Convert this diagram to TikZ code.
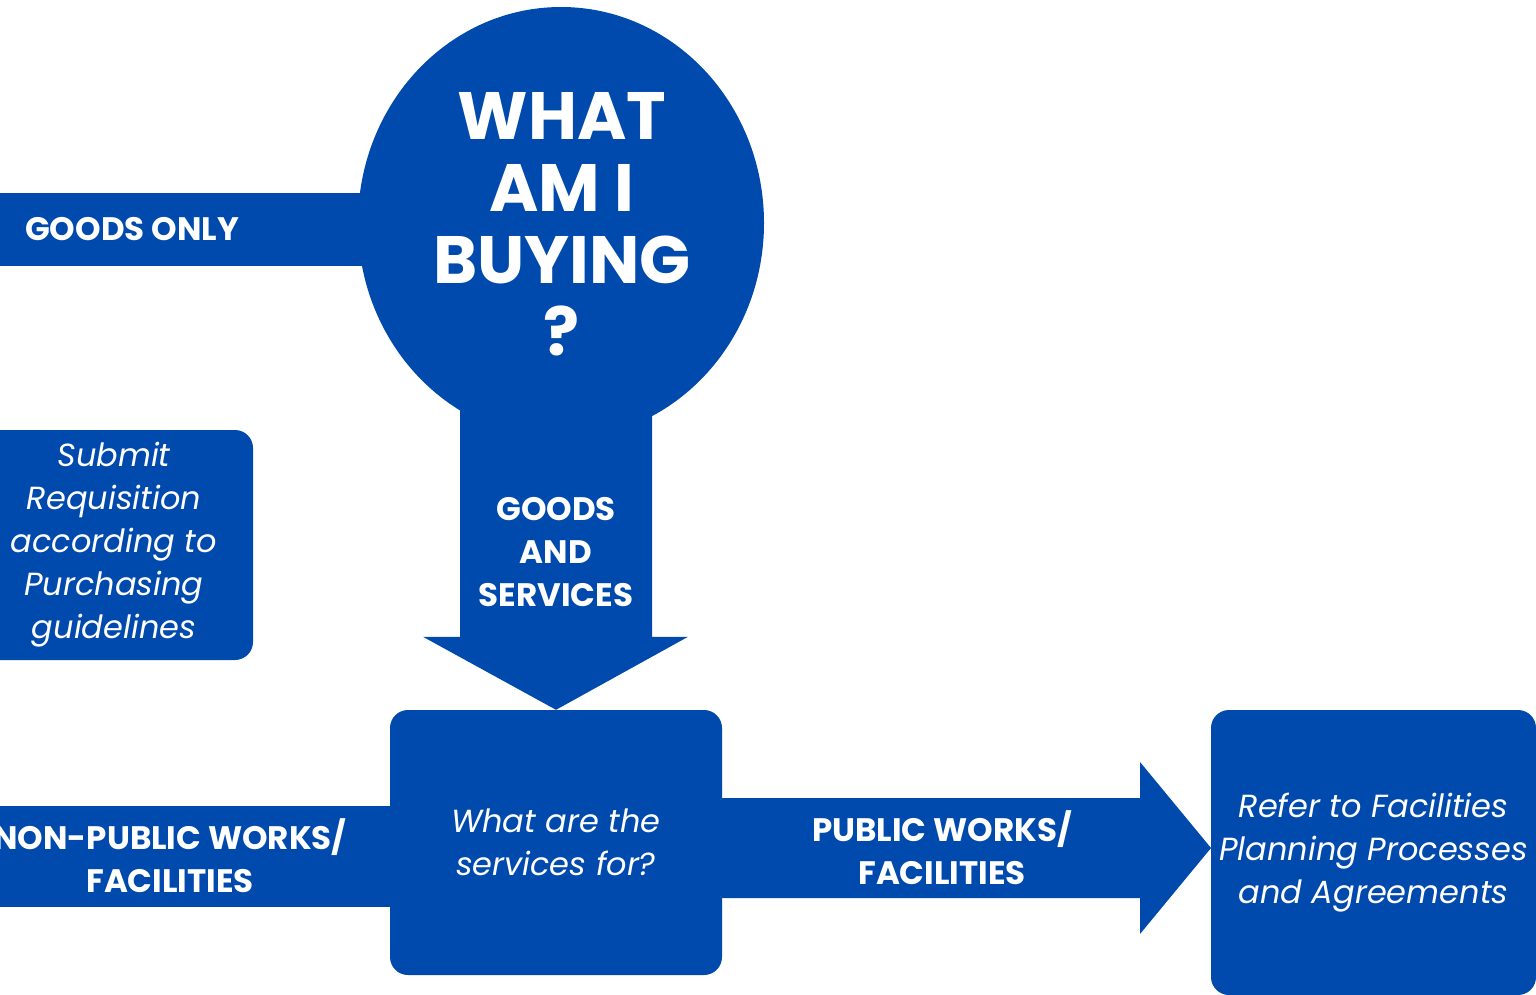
\documentclass[tikz,border=0pt]{standalone}
\usepackage{fontspec}
\setmainfont{Poppins}
\IfFontExistsTF{Poppins Italic}
  {\newfontfamily\notefont{Poppins Italic}}
  {\newfontfamily\notefont{Poppins}[FakeSlant=0.2]}
\usetikzlibrary{calc,backgrounds,shapes.geometric}
\definecolor{buyblue}{HTML}{004AAD}

\begin{document}
\begin{tikzpicture}[x=1pt, y=-1pt, flow/.style={fill=buyblue},
	box/.style={fill=buyblue, rounded corners=18pt, text=white, align=center,
	inner sep=0pt, font=\notefont\fontsize{32}{43}\selectfont},
	tag/.style={text=white, align=center, inner sep=0pt,
	font=\bfseries\fontsize{32.5}{43}\selectfont}]
	\useasboundingbox (0,0) rectangle (1536,995);

	\node[ellipse, fill=buyblue, minimum width=406pt, minimum height=432pt, inner sep=0pt] (q) at (561,223) {};
	\node[box, minimum width=278pt, minimum height=230pt] (req) at (114,545)
		{Submit\\Requisition\\according to\\Purchasing\\guidelines};
	\node[box, minimum width=332pt, minimum height=265pt] (svc) at (556,842.5)
		{What are the\\services for?};
	\node[box, minimum width=325pt, minimum height=285pt] (ref) at (1373.5,852.5)
		{Refer to Facilities\\Planning Processes\\and Agreements};
	\coordinate (rtip) at (1211,848);

	\begin{scope}[on background layer]
	\fill[flow] (0,193) rectangle (q.center |- 0,266);
	\fill[flow] (0,806) rectangle (svc.center |- 0,907);
	\fill[flow] (svc.north) -- ++(-133,-73) -- ++(37,0) |- (q.center)
		-| ($(svc.north)+(96,-73)$) -- ++(36,0) -- cycle;
	\fill[flow] (rtip) -- ++(-71,-86) -- ++(0,36) -- (svc.center |- 0,798)
		-- (svc.center |- 0,898) -- ($(rtip)+(-71,50)$) -- ++(0,36) -- cycle;
	\end{scope}

	\node[tag, font=\bfseries\fontsize{67}{72}\selectfont] (qt) at (562,224) {WHAT\\AM I\\BUYING\\?};
	\node[tag, anchor=west] (go) at (25,229.5) {GOODS ONLY};
	\node[tag] (gs) at (556,552) {GOODS\\AND\\SERVICES};
	\node[tag] (np) at (170,856) {NON-PUBLIC WORKS/\\FACILITIES};
	\node[tag] (pw) at (942,848) {PUBLIC WORKS/\\FACILITIES};
\end{tikzpicture}
\end{document}
